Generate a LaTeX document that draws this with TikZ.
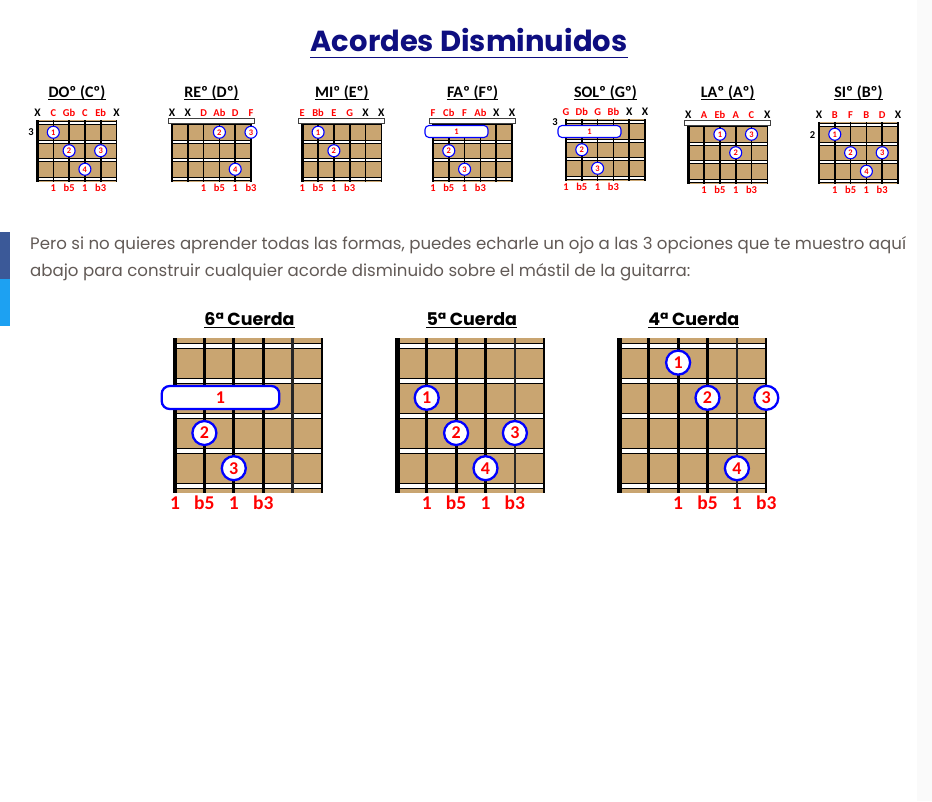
\documentclass[tikz,border=0pt]{standalone}
\usepackage{fontspec}
\setmainfont{Carlito}
\newfontfamily\popfont{Poppins}
\newfontfamily\bodyfont{Poppins}
\definecolor{boardtan}{RGB}{201,165,113}
\definecolor{dotblue}{RGB}{0,0,255}
\definecolor{notered}{RGB}{255,0,0}
\definecolor{titlenavy}{RGB}{14,14,128}
\definecolor{bodygrey}{RGB}{98,90,86}
\definecolor{fbblue}{RGB}{59,89,152}
\definecolor{twblue}{RGB}{29,161,242}
\tikzset{
  board/.style={fill=boardtan},
  fretbar/.style={fill=white, draw=black, line width=0.5pt},
  nutbar/.style={fill=white, draw=black!75, line width=1pt},
  smallstring/.style={line width=1.6pt},
  bigstring/.style={line width=3.2pt},
  ulined/.style n args={3}{append after command={([yshift=-#1]\tikzlastnode.base west) edge[draw=#2, line width=#3] ([yshift=-#1]\tikzlastnode.base east)}},
  pagetitle/.style={anchor=base, inner sep=0pt, text=titlenavy, font=\popfont\bfseries\fontsize{29}{29}\selectfont, ulined={5.8pt}{titlenavy}{1.7pt}},
  bodytext/.style={anchor=base west, inner sep=0pt, text=bodygrey, font=\bodyfont\fontsize{16.6}{16.6}\selectfont},
  chordname/.style={anchor=base, inner sep=0pt, font=\bfseries\fontsize{16}{16}\selectfont, ulined={2.4pt}{black}{1.2pt}},
  shapename/.style={anchor=base, inner sep=0pt, font=\popfont\bfseries\fontsize{17.5}{17.5}\selectfont, ulined={2.4pt}{black}{1.3pt}},
  notename/.style={anchor=base, inner sep=0pt, text=notered, font=\bfseries\fontsize{10.5}{10.5}\selectfont},
  fretnum/.style={anchor=base, inner sep=0pt, font=\bfseries\fontsize{10.5}{10.5}\selectfont},
  bignote/.style={anchor=base, inner sep=0pt, text=notered, font=\bfseries\fontsize{19.5}{19.5}\selectfont},
  smalldot/.style={circle, draw=dotblue, fill=white, line width=1.1pt, minimum size=12pt, inner sep=0pt, text=notered, font=\bfseries\fontsize{8.5}{8.5}\selectfont},
  bigdot/.style={circle, draw=dotblue, fill=white, line width=2.3pt, minimum size=24pt, inner sep=0pt, text=notered, font=\bfseries\fontsize{18}{18}\selectfont},
  smallbarre/.style={rectangle, rounded corners=4pt, draw=dotblue, fill=white, line width=1.1pt, minimum width=63pt, minimum height=12pt, inner sep=0pt, text=notered, font=\bfseries\fontsize{8.5}{8.5}\selectfont},
  bigbarre/.style={rectangle, rounded corners=8pt, draw=dotblue, fill=white, line width=2.3pt, minimum width=117.6pt, minimum height=23pt, inner sep=0pt, text=notered, font=\bfseries\fontsize{18}{18}\selectfont}
}
\newcommand{\fl}{b}
\newcommand{\mute}{\textcolor{black}{\fontsize{11.5}{11.5}\selectfont X}}
% small chord box, origin = first string at the top of the board
\newcommand{\smallboard}{%
  \fill[board] (0,0) rectangle (79,62);
  \foreach \fy in {3,21.5,40,58.5}
    \filldraw[fretbar] (0,{\fy-1.4}) rectangle (79,{\fy+1.4});
  \foreach \sx in {15.8,31.6,47.4,63.2,79}
    \draw[smallstring] (\sx,0) -- (\sx,62);
  \draw[smallstring, line width=2.6pt] (0,0) -- (0,62);
}
\newcommand{\smallnut}{\filldraw[nutbar] (-3.5,-1.5) rectangle (82.5,3.5);}
\newcommand{\smallnotes}[7]{%
  \foreach \nt [count=\k from 0] in {#2,#3,#4,#5,#6,#7}
    \node[notename] (#1note\k) at ({15.8*\k},-4) {\nt};
}
\newcommand{\smallints}[2]{%
  \node[notename] (#1int1) at (#2,71) {1};
  \node[notename] (#1int2) at ({#2+15.8},71) {\fl5};
  \node[notename] (#1int3) at ({#2+31.6},71) {1};
  \node[notename] (#1int4) at ({#2+47.4},71) {\fl3};
}
% big neck, origin = first string at the top of the board
\newcommand{\bigboard}{%
  \fill[board] (0,0) rectangle (147,155);
  \foreach \fy in {7.5,42.5,77.5,112.5,147.5}
    \filldraw[fretbar] (0,{\fy-2.6}) rectangle (147,{\fy+2.6});
  \foreach \sx in {29.4,58.8,88.2}
    \draw[bigstring] (\sx,0) -- (\sx,155);
  \draw[bigstring, line width=2.7pt, black!85] (117.6,0) -- (117.6,155);
  \draw[bigstring, line width=2.2pt] (147,0) -- (147,155);
  \draw[bigstring, line width=4.5pt] (0,0) -- (0,155);
}
\newcommand{\bigints}[2]{%
  \node[bignote] (#1int1) at (#2,171) {1};
  \node[bignote] (#1int2) at ({#2+29.4},171) {\fl5};
  \node[bignote] (#1int3) at ({#2+58.8},171) {1};
  \node[bignote] (#1int4) at ({#2+88.2},171) {\fl3};
}
\begin{document}
\begin{tikzpicture}[x=1pt, y=-1pt]
\useasboundingbox (0,0) rectangle (932,801);
\fill[white] (0,0) rectangle (932,801);
\fill[black!2] (917,0) rectangle (932,801);
\fill[fbblue] (0,232) rectangle (10,279);
\fill[twblue] (0,279) rectangle (10,326);

\node[pagetitle] (title) at (469,51.7) {Acordes Disminuidos};
\node[bodytext] (intro1) at (30,249.3) {Pero si no quieres aprender todas las formas, puedes echarle un ojo a las 3 opciones que te muestro aquí};
\node[bodytext] (intro2) at (30,276.7) {abajo para construir cualquier acorde disminuido sobre el mástil de la guitarra:};

% DO
\begin{scope}[shift={(37.5,120)}]
\smallboard
\node[chordname] (doName) at (39.5,-22.7) {DOº (Cº)};
\smallnotes{do}{\mute}{C}{G\fl}{C}{E\fl}{\mute}
\node[fretnum] (doFret) at (-6.5,15.5) {3};
\node[smalldot] (doDot1) at (15.8,12.25) {1};
\node[smalldot] (doDot2) at (31.6,30.75) {2};
\node[smalldot] (doDot3) at (63.2,30.75) {3};
\node[smalldot] (doDot4) at (47.4,49.25) {4};
\smallints{do}{15.8}
\end{scope}

% RE
\begin{scope}[shift={(172,120)}]
\smallboard
\smallnut
\node[chordname] (reName) at (39.5,-22.7) {REº (Dº)};
\smallnotes{re}{\mute}{\mute}{D}{A\fl}{D}{F}
\node[smalldot] (reDot2) at (47.4,12.25) {2};
\node[smalldot] (reDot3) at (79,12.25) {3};
\node[smalldot] (reDot4) at (63.2,49.25) {4};
\smallints{re}{31.6}
\end{scope}

% MI
\begin{scope}[shift={(302.3,120)}]
\smallboard
\smallnut
\node[chordname] (miName) at (39.5,-22.7) {MIº (Eº)};
\smallnotes{mi}{E}{B\fl}{E}{G}{\mute}{\mute}
\node[smalldot] (miDot1) at (15.8,12.25) {1};
\node[smalldot] (miDot2) at (31.6,30.75) {2};
\smallints{mi}{0}
\end{scope}

% FA
\begin{scope}[shift={(433,120)}]
\smallboard
\smallnut
\node[chordname] (faName) at (39.5,-22.7) {FAº (Fº)};
\smallnotes{fa}{F}{C\fl}{F}{A\fl}{\mute}{\mute}
\node[smallbarre] (faBarre) at (23.5,11.5) {1};
\node[smalldot] (faDot2) at (15.8,30.75) {2};
\node[smalldot] (faDot3) at (31.6,49.25) {3};
\smallints{fa}{0}
\end{scope}

% SOL
\begin{scope}[shift={(566,119)}]
\smallboard
\node[chordname] (solName) at (39.5,-21.7) {SOLº (Gº)};
\smallnotes{sol}{G}{D\fl}{G}{B\fl}{\mute}{\mute}
\node[fretnum] (solFret) at (-11,6) {3};
\node[smallbarre] (solBarre) at (23.5,12.5) {1};
\node[smalldot] (solDot2) at (15.8,30.75) {2};
\node[smalldot] (solDot3) at (31.6,49.25) {3};
\smallints{sol}{0}
\end{scope}

% LA
\begin{scope}[shift={(688.3,122)}]
\smallboard
\smallnut
\node[chordname] (laName) at (39.5,-24.7) {LAº (Aº)};
\smallnotes{la}{\mute}{A}{E\fl}{A}{C}{\mute}
\node[smalldot] (laDot1) at (31.6,12.25) {1};
\node[smalldot] (laDot2) at (47.4,30.75) {2};
\node[smalldot] (laDot3) at (63.2,12.25) {3};
\smallints{la}{15.8}
\end{scope}

% SI
\begin{scope}[shift={(819,122)}]
\smallboard
\node[chordname] (siName) at (39.5,-24.7) {SIº (Bº)};
\smallnotes{si}{\mute}{B}{F}{B}{D}{\mute}
\node[fretnum] (siFret) at (-6.5,16) {2};
\node[smalldot] (siDot1) at (15.8,12.25) {1};
\node[smalldot] (siDot2) at (31.6,30.75) {2};
\node[smalldot] (siDot3) at (63.2,30.75) {3};
\node[smalldot] (siDot4) at (47.4,49.25) {4};
\smallints{si}{15.8}
\end{scope}

% root on the 6th string
\begin{scope}[shift={(175,338)}]
\bigboard
\node[shapename] (sixthName) at (74.5,-13) {6ª Cuerda};
\node[bigbarre] (sixthBarre) at (45.5,59.5) {1};
\node[bigdot] (sixthDot2) at (29.4,95) {2};
\node[bigdot] (sixthDot3) at (58.8,130.2) {3};
\bigints{sixth}{0}
\end{scope}

% root on the 5th string
\begin{scope}[shift={(397.3,338)}]
\bigboard
\node[shapename] (fifthName) at (74.5,-13) {5ª Cuerda};
\node[bigdot] (fifthDot1) at (29.4,59.8) {1};
\node[bigdot] (fifthDot2) at (58.8,95) {2};
\node[bigdot] (fifthDot3) at (117.6,95) {3};
\node[bigdot] (fifthDot4) at (88.2,130.2) {4};
\bigints{fifth}{29.4}
\end{scope}

% root on the 4th string
\begin{scope}[shift={(619.3,338)}]
\bigboard
\node[shapename] (fourthName) at (74.5,-13) {4ª Cuerda};
\node[bigdot] (fourthDot1) at (58.8,24.6) {1};
\node[bigdot] (fourthDot2) at (88.2,59.8) {2};
\node[bigdot] (fourthDot3) at (147,59.8) {3};
\node[bigdot] (fourthDot4) at (117.6,130.2) {4};
\bigints{fourth}{58.8}
\end{scope}
\end{tikzpicture}
\end{document}
